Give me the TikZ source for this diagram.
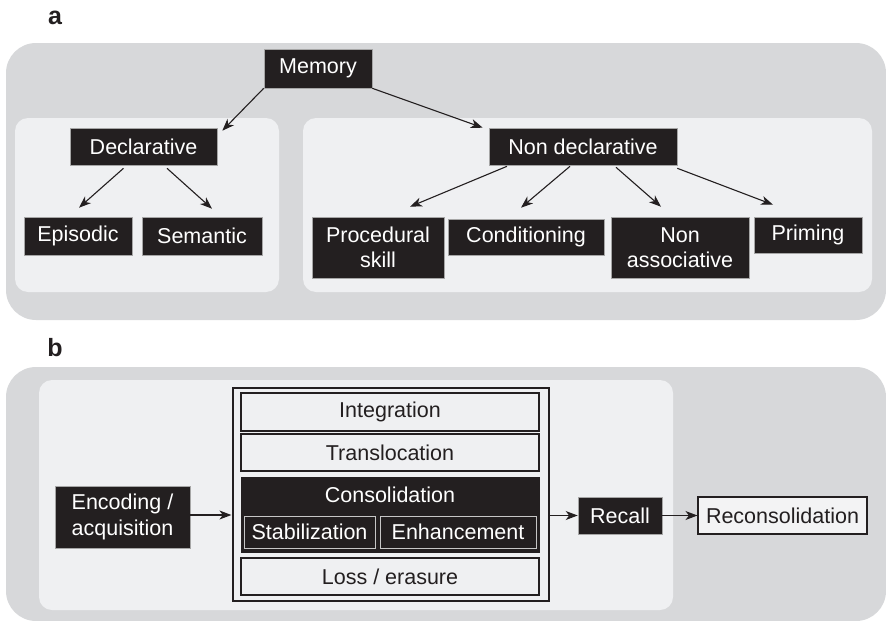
\documentclass[tikz,border=0pt]{standalone}
\usepackage{fontspec}
\setmainfont{Liberation Sans}
\usetikzlibrary{arrows.meta,calc}
\definecolor{outergray}{HTML}{D7D8DA}
\definecolor{innergray}{HTML}{EFF0F2}
\definecolor{boxblack}{HTML}{231F20}
\definecolor{recfill}{HTML}{F3F3F4}
\newcommand{\boxfont}{\fontsize{21.5}{25.5}\selectfont}
\tikzset{
  bbox/.style={fill=boxblack, draw=gray!70, line width=0.6pt, text=white, inner sep=0pt, align=center, font=\boxfont},
  wbox/.style={fill=innergray, draw=boxblack, line width=1.2pt, text=boxblack, inner sep=0pt, align=center, font=\boxfont},
  subbox/.style={fill=boxblack, draw=gray!45, line width=0.8pt, text=white, inner sep=0pt, align=center, font=\boxfont},
  panelbg/.style={fill=outergray, rounded corners=30pt},
  innerbg/.style={fill=innergray, rounded corners=13pt},
  arr/.style={-{Stealth[length=12pt,width=9pt,inset=3.5pt]}, line width=1.1pt, draw=boxblack},
  plabel/.style={font=\fontsize{25}{27}\selectfont\bfseries, text=boxblack, inner sep=0pt}
}
\begin{document}
\begin{tikzpicture}[x=1pt,y=-1pt]
\useasboundingbox (0,0) rectangle (886,621);
% ---------- panel a ----------
\node[plabel] (la) at (55,18) {a};
\fill[panelbg] (6,43) rectangle (886,320);
\fill[innerbg] (15,118) rectangle (279,292);
\fill[innerbg] (303,118) rectangle (872,292);

\node[bbox, minimum width=108, minimum height=39] (mem) at (318,68.5) {Memory};
\node[bbox, minimum width=147, minimum height=37] (decl) at (143.5,146.5) {Declarative};
\node[bbox, minimum width=188, minimum height=37] (nd) at (583,146.5) {Non declarative};
\node[bbox, minimum width=108, minimum height=38] (epi) at (78,236) {Episodic};
\node[bbox, minimum width=120, minimum height=38] (sem) at (202,236) {Semantic};
\node[bbox, minimum width=132, minimum height=61] (proc) at (378,247.5) {Procedural\\skill};
\node[bbox, minimum width=156, minimum height=36] (cond) at (526,237) {Conditioning};
\node[bbox, minimum width=138, minimum height=61] (na) at (680,247.5) {Non\\associative};
\node[bbox, minimum width=108, minimum height=36] (prim) at (808,235) {Priming};

\draw[arr] (mem.south west) -- ($(decl.north east)+(5,3)$);
\draw[arr] (mem.south east) -- ($(nd.north west)+(-6,0)$);
\draw[arr] ($(decl.south)+(-20,3)$) -- ($(epi.north)+(1,-9)$);
\draw[arr] ($(decl.south)+(23.5,3)$) -- ($(sem.north)+(10,-8)$);
\draw[arr] ($(nd.south)+(-76,1)$) -- ($(proc.north)+(32,-10)$);
\draw[arr] ($(nd.south)+(-13,1)$) -- ($(cond.north)+(-5,-11)$);
\draw[arr] ($(nd.south)+(33,2)$) -- ($(na.north)+(-19,-10)$);
\draw[arr] ($(nd.south east)+(0,3)$) -- ($(prim.north)+(-35,-12)$);

% ---------- panel b ----------
\node[plabel] (lb) at (55,348) {b};
\fill[panelbg] (6,367) rectangle (886,621);
\fill[innerbg] (39,380) rectangle (673,610);

\node[draw=boxblack, line width=1.2pt, fill=innergray, minimum width=316, minimum height=213, inner sep=0pt] (cont) at (391,494.5) {};
\node[wbox, minimum width=298, minimum height=38] (integ) at (390,412) {Integration};
\node[wbox, minimum width=298, minimum height=37] (trans) at (390,452.5) {Translocation};
\node[fill=boxblack, draw=boxblack, minimum width=298, minimum height=75, inner sep=0pt] (consbox) at (390,514.5) {};
\node[text=white, inner sep=0pt, font=\boxfont] (cons) at (390,495) {Consolidation};
\node[subbox, minimum width=131, minimum height=32] (stab) at (309.5,532) {Stabilization};
\node[subbox, minimum width=156, minimum height=32] (enh) at (458,532) {Enhancement};
\node[wbox, minimum width=298, minimum height=37] (loss) at (390,576.5) {Loss / erasure};

\node[bbox, minimum width=135, minimum height=62] (enc) at (122.5,517) {Encoding /\\acquisition};
\node[bbox, minimum width=84, minimum height=37] (rec) at (620,515.5) {Recall};
\node[fill=recfill, draw=boxblack, line width=1.1pt, text=boxblack, inner sep=0pt, font=\boxfont, minimum width=169, minimum height=37] (recon) at (782.5,515.5) {Reconsolidation};

\draw[arr] (enc.east |- 0,515) -- ($(cont.west |- 0,515)+(-1,0)$);
\draw[arr] (cont.east |- rec.west) -- (rec.west);
\draw[arr] (rec.east) -- (recon.west);
\end{tikzpicture}
\end{document}
